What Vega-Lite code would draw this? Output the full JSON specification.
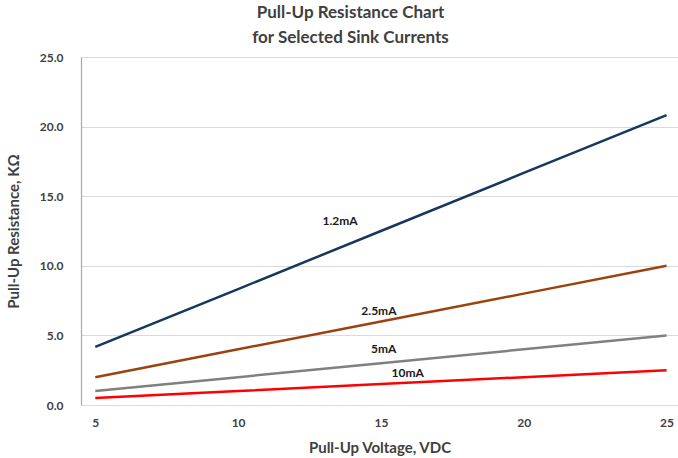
{
  "$schema": "https://vega.github.io/schema/vega-lite/v6.json",
  "autosize": "none",
  "width": 597,
  "height": 348,
  "padding": {"left": 81, "top": 57, "right": 0, "bottom": 53},
  "background": "white",
  "config": {
    "view": {"stroke": null},
    "font": "Lato"
  },
  "title": {
    "text": ["Pull-Up Resistance Chart", "for Selected Sink Currents"],
    "font": "Lato",
    "fontSize": 17,
    "fontWeight": "bold",
    "color": "#404040",
    "lineHeight": 25,
    "anchor": "middle",
    "dx": -29,
    "offset": 4
  },
  "datasets": {
    "series": [
      {"voltage": 5, "resistance": 4.17, "current": "1.2mA"},
      {"voltage": 10, "resistance": 8.33, "current": "1.2mA"},
      {"voltage": 15, "resistance": 12.5, "current": "1.2mA"},
      {"voltage": 20, "resistance": 16.67, "current": "1.2mA"},
      {"voltage": 25, "resistance": 20.83, "current": "1.2mA"},
      {"voltage": 5, "resistance": 2.0, "current": "2.5mA"},
      {"voltage": 10, "resistance": 4.0, "current": "2.5mA"},
      {"voltage": 15, "resistance": 6.0, "current": "2.5mA"},
      {"voltage": 20, "resistance": 8.0, "current": "2.5mA"},
      {"voltage": 25, "resistance": 10.0, "current": "2.5mA"},
      {"voltage": 5, "resistance": 1.0, "current": "5mA"},
      {"voltage": 10, "resistance": 2.0, "current": "5mA"},
      {"voltage": 15, "resistance": 3.0, "current": "5mA"},
      {"voltage": 20, "resistance": 4.0, "current": "5mA"},
      {"voltage": 25, "resistance": 5.0, "current": "5mA"},
      {"voltage": 5, "resistance": 0.5, "current": "10mA"},
      {"voltage": 10, "resistance": 1.0, "current": "10mA"},
      {"voltage": 15, "resistance": 1.5, "current": "10mA"},
      {"voltage": 20, "resistance": 2.0, "current": "10mA"},
      {"voltage": 25, "resistance": 2.5, "current": "10mA"}
    ],
    "labels": [
      {"voltage": 13.57, "resistance": 13.2, "current": "1.2mA"},
      {"voltage": 14.93, "resistance": 6.78, "current": "2.5mA"},
      {"voltage": 15.1, "resistance": 4.05, "current": "5mA"},
      {"voltage": 15.94, "resistance": 2.33, "current": "10mA"}
    ]
  },
  "layer": [
    {
      "data": {"name": "series"},
      "mark": {"type": "line", "strokeWidth": 2.5, "clip": true},
      "encoding": {
        "x": {
          "field": "voltage",
          "type": "quantitative",
          "scale": {"domain": [4.5, 25.4], "nice": false, "zero": false},
          "axis": {
            "values": [5, 10, 15, 20, 25],
            "title": "Pull-Up Voltage, VDC",
            "titleFont": "Lato",
            "titleFontSize": 15,
            "titleFontWeight": "bold",
            "titleColor": "#404040",
            "titlePadding": 12,
            "labelFont": "Lato",
            "labelFontSize": 12,
            "labelFontWeight": "bold",
            "labelColor": "#404040",
            "labelPadding": 12,
            "ticks": false,
            "grid": false,
            "domain": false
          }
        },
        "y": {
          "field": "resistance",
          "type": "quantitative",
          "scale": {"domain": [0, 25], "nice": false},
          "axis": {
            "values": [0, 5, 10, 15, 20, 25],
            "format": ".1f",
            "title": "Pull-Up Resistance, KΩ",
            "titleFont": "Lato",
            "titleFontSize": 15,
            "titleFontWeight": "bold",
            "titleColor": "#404040",
            "titlePadding": 18,
            "labelFont": "Lato",
            "labelFontSize": 12,
            "labelFontWeight": "bold",
            "labelColor": "#404040",
            "labelPadding": 18,
            "ticks": false,
            "grid": true,
            "gridColor": "#D9D9D9",
            "gridWidth": 1,
            "domain": true,
            "domainColor": "#A6A6BF",
            "domainWidth": 1.2
          }
        },
        "color": {
          "field": "current",
          "type": "nominal",
          "scale": {
            "domain": ["1.2mA", "2.5mA", "5mA", "10mA"],
            "range": ["#17375E", "#9C420E", "#808080", "#FF0000"]
          },
          "legend": null
        },
        "detail": {"field": "current"}
      }
    },
    {
      "data": {"name": "labels"},
      "mark": {"type": "text", "font": "Lato", "fontSize": 12, "fontWeight": "bold", "color": "#1a1a1a", "align": "center", "baseline": "middle"},
      "encoding": {
        "x": {"field": "voltage", "type": "quantitative"},
        "y": {"field": "resistance", "type": "quantitative"},
        "text": {"field": "current"}
      }
    }
  ]
}
